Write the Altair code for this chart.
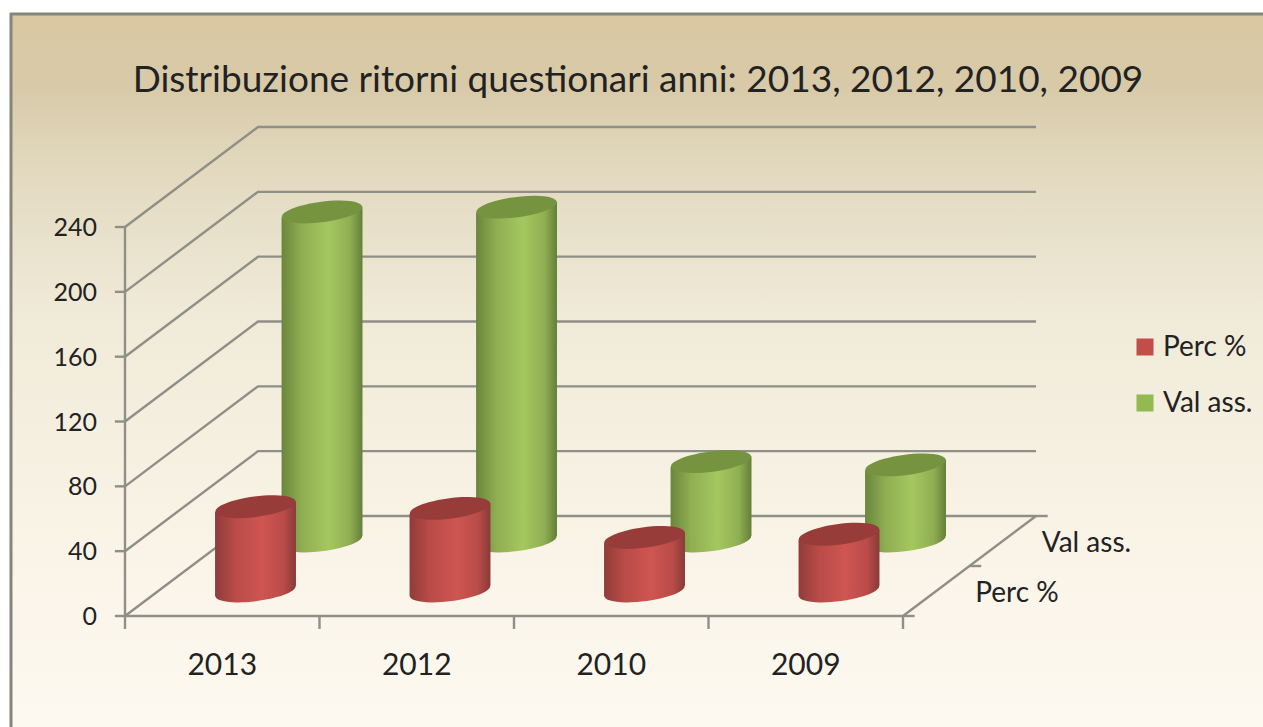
import math

import altair as alt
import pandas as pd

# Chart content
years = ["2013", "2012", "2010", "2009"]
series_names = ["Perc %", "Val ass."]
perc_values = [52, 51, 33, 35]
val_values = [203, 206, 49, 47]
value_ticks = [0, 40, 80, 120, 160, 200, 240]

# Oblique projection of the depth axis, in category and value units
DEPTH_X = 0.684
DEPTH_Y = 61.7
SERIES_DEPTH = {"Perc %": 0.25, "Val ass.": 0.75}
CYLINDER_WIDTH = 0.416
TILT_DEG = 7.5
TILT_VALUE = 3.3

FONT = "Lato"
INK = "#222222"
WALL = "#8f8f87"

x_scale = alt.Scale(domain=[-125 / 194.5, (1263 - 125) / 194.5], nice=False, zero=False)
y_scale = alt.Scale(domain=[-111 / 1.6208, 616 / 1.6208], nice=False, zero=False)
X = lambda f: alt.X(f, type="quantitative", scale=x_scale, axis=None)
Y = lambda f: alt.Y(f, type="quantitative", scale=y_scale, axis=None)

# Projected cylinder rows
rows, body_rows = [], []
for name, values in zip(series_names, [perc_values, val_values]):
    depth = SERIES_DEPTH[name]
    for i, (year, value) in enumerate(zip(years, values)):
        cx = i + 0.5 + depth * DEPTH_X
        base = depth * DEPTH_Y
        rows.append({"series": name, "year": year, "cx": cx, "base": base, "top": base + value})
        for side, tilt in [(-1, -TILT_VALUE), (1, TILT_VALUE)]:
            body_rows.append({
                "series": name, "year": year,
                "x": cx + side * CYLINDER_WIDTH / 2,
                "low": base + tilt, "high": base + value + tilt,
            })
cyl = pd.DataFrame(rows)
body = pd.DataFrame(body_rows)

# Wall, floor and tick lines as polylines
lines = []
def polyline(key, points):
    for n, (px, py) in enumerate(points):
        lines.append({"key": key, "n": n, "x": px, "y": py})

for v in value_ticks:
    polyline(f"grid{v}", [(0, v), (DEPTH_X, v + DEPTH_Y), (4 + DEPTH_X, v + DEPTH_Y)])
    polyline(f"ytick{v}", [(-0.052, v), (0, v)])
polyline("yaxis", [(0, 0), (0, 240)])
polyline("xaxis", [(0, 0), (4, 0), (4 + DEPTH_X, DEPTH_Y)])
for i in range(5):
    polyline(f"xtick{i}", [(i, 0), (i, -8)])
for d in [0, 0.5, 1]:
    polyline(f"ztick{d}", [(4 + d * DEPTH_X, d * DEPTH_Y), (4 + d * DEPTH_X + 0.06, d * DEPTH_Y)])
lines_df = pd.DataFrame(lines)

# Page panel
panel = alt.Chart().mark_rect(
    color=alt.Gradient(
        gradient="linear", x1=0, x2=0, y1=0, y2=1,
        stops=[
            alt.GradientStop(offset=0, color="#dac7a1"),
            alt.GradientStop(offset=0.1, color="#d8caa8"),
            alt.GradientStop(offset=0.22, color="#e2d9bf"),
            alt.GradientStop(offset=0.42, color="#f0ead8"),
            alt.GradientStop(offset=0.75, color="#faf4e8"),
            alt.GradientStop(offset=1, color="#fdf9f0"),
        ],
    )
).encode(x=alt.value(11), x2=alt.value(1263), y=alt.value(13), y2=alt.value(727))
frame_top = alt.Chart().mark_rule(color="#85857b", strokeWidth=3).encode(
    x=alt.value(10), x2=alt.value(1263), y=alt.value(14))
frame_left = alt.Chart().mark_rule(color="#85857b", strokeWidth=3).encode(
    x=alt.value(11), y=alt.value(13), y2=alt.value(727))

structure = alt.Chart(lines_df).mark_line(color=WALL, strokeWidth=2.4).encode(
    x=X("x"), y=Y("y"), detail="key:N", order="n:Q")


def side_shading(edge_l, mid, edge_r):
    return alt.Gradient(
        gradient="linear", x1=0, x2=1, y1=0, y2=0,
        stops=[
            alt.GradientStop(offset=0, color=edge_l),
            alt.GradientStop(offset=0.25, color=mid[0]),
            alt.GradientStop(offset=0.58, color=mid[1]),
            alt.GradientStop(offset=0.85, color=mid[0]),
            alt.GradientStop(offset=1, color=edge_r),
        ],
    )


a = math.radians(TILT_DEG)
ex, ey = math.cos(a), math.sin(a)
ELLIPSE = (
    f"M{-ex:.4f},{ey:.4f}A1,0.25 {-TILT_DEG} 1 1 {ex:.4f},{-ey:.4f}"
    f"A1,0.25 {-TILT_DEG} 1 1 {-ex:.4f},{ey:.4f}Z"
)
CAP_SIZE = (CYLINDER_WIDTH * 194.5) ** 2


def cylinders(name, shading, cap):
    c = cyl[cyl.series == name]
    b = body[body.series == name]
    bottom = alt.Chart(c).mark_point(
        shape=ELLIPSE, size=CAP_SIZE, filled=True, opacity=1, fill=shading, strokeWidth=0
    ).encode(x=X("cx"), y=Y("base"))
    side = alt.Chart(b).mark_area(fill=shading, orient="vertical", opacity=1).encode(
        x=X("x"), y=Y("low"), y2="high:Q", detail="year:N")
    top = alt.Chart(c).mark_point(
        shape=ELLIPSE, size=CAP_SIZE, filled=True, opacity=1, fill=cap, strokeWidth=0
    ).encode(x=X("cx"), y=Y("top"))
    return [bottom, side, top]


green = cylinders(
    "Val ass.",
    side_shading("#6a863c", ("#8fae52", "#a5c75f"), "#647f39"),
    "#769440",
)
red = cylinders(
    "Perc %",
    side_shading("#8f3d3a", ("#b94b48", "#cf5551"), "#893a38"),
    "#983c3a",
)

# Tick and category labels
y_labels = alt.Chart(pd.DataFrame({"v": value_ticks, "x": 0})).mark_text(
    font=FONT, fontSize=25, color=INK, align="right", baseline="middle", dx=-28, dy=1
).encode(x=X("x"), y=Y("v"), text="v:Q")
x_labels = alt.Chart(pd.DataFrame({"year": years, "x": [i + 0.5 for i in range(4)], "y": 0})).mark_text(
    font=FONT, fontSize=30, color=INK, align="center", baseline="middle", dy=50
).encode(x=X("x"), y=Y("y"), text="year:N")
depth_labels = alt.Chart(pd.DataFrame({
    "name": series_names,
    "x": [4 + SERIES_DEPTH[n] * DEPTH_X for n in series_names],
    "y": [SERIES_DEPTH[n] * DEPTH_Y for n in series_names],
})).mark_text(
    font=FONT, fontSize=28, color=INK, align="left", baseline="middle", dx=39, dy=3
).encode(x=X("x"), y=Y("y"), text="name:N")

title = alt.Chart(pd.DataFrame({"t": ["Distribuzione ritorni questionari anni: 2013, 2012, 2010, 2009"]})).mark_text(
    font=FONT, fontSize=37, color=INK, align="center", baseline="middle"
).encode(x=alt.value(638), y=alt.value(81), text="t:N")

# Legend
legend = []
for name, color, py in zip(series_names, ["#c24d4a", "#93b951"], [347, 403]):
    frame = pd.DataFrame({"name": [name]})
    legend.append(alt.Chart(frame).mark_square(size=289, color=color, opacity=1).encode(
        x=alt.value(1145), y=alt.value(py)))
    legend.append(alt.Chart(frame).mark_text(
        font=FONT, fontSize=28, color=INK, align="left", baseline="middle"
    ).encode(x=alt.value(1163), y=alt.value(py + 1), text="name:N"))

chart = alt.layer(
    panel, frame_top, frame_left, structure, *green, *red,
    y_labels, x_labels, depth_labels, title, *legend,
).properties(
    width=1263, height=727, padding=0,
    autosize=alt.AutoSizeParams(type="none"),
    background="#ffffff",
).configure_view(stroke=None)

chart.save("out.html", embed_options={"renderer": "svg", "actions": False})
